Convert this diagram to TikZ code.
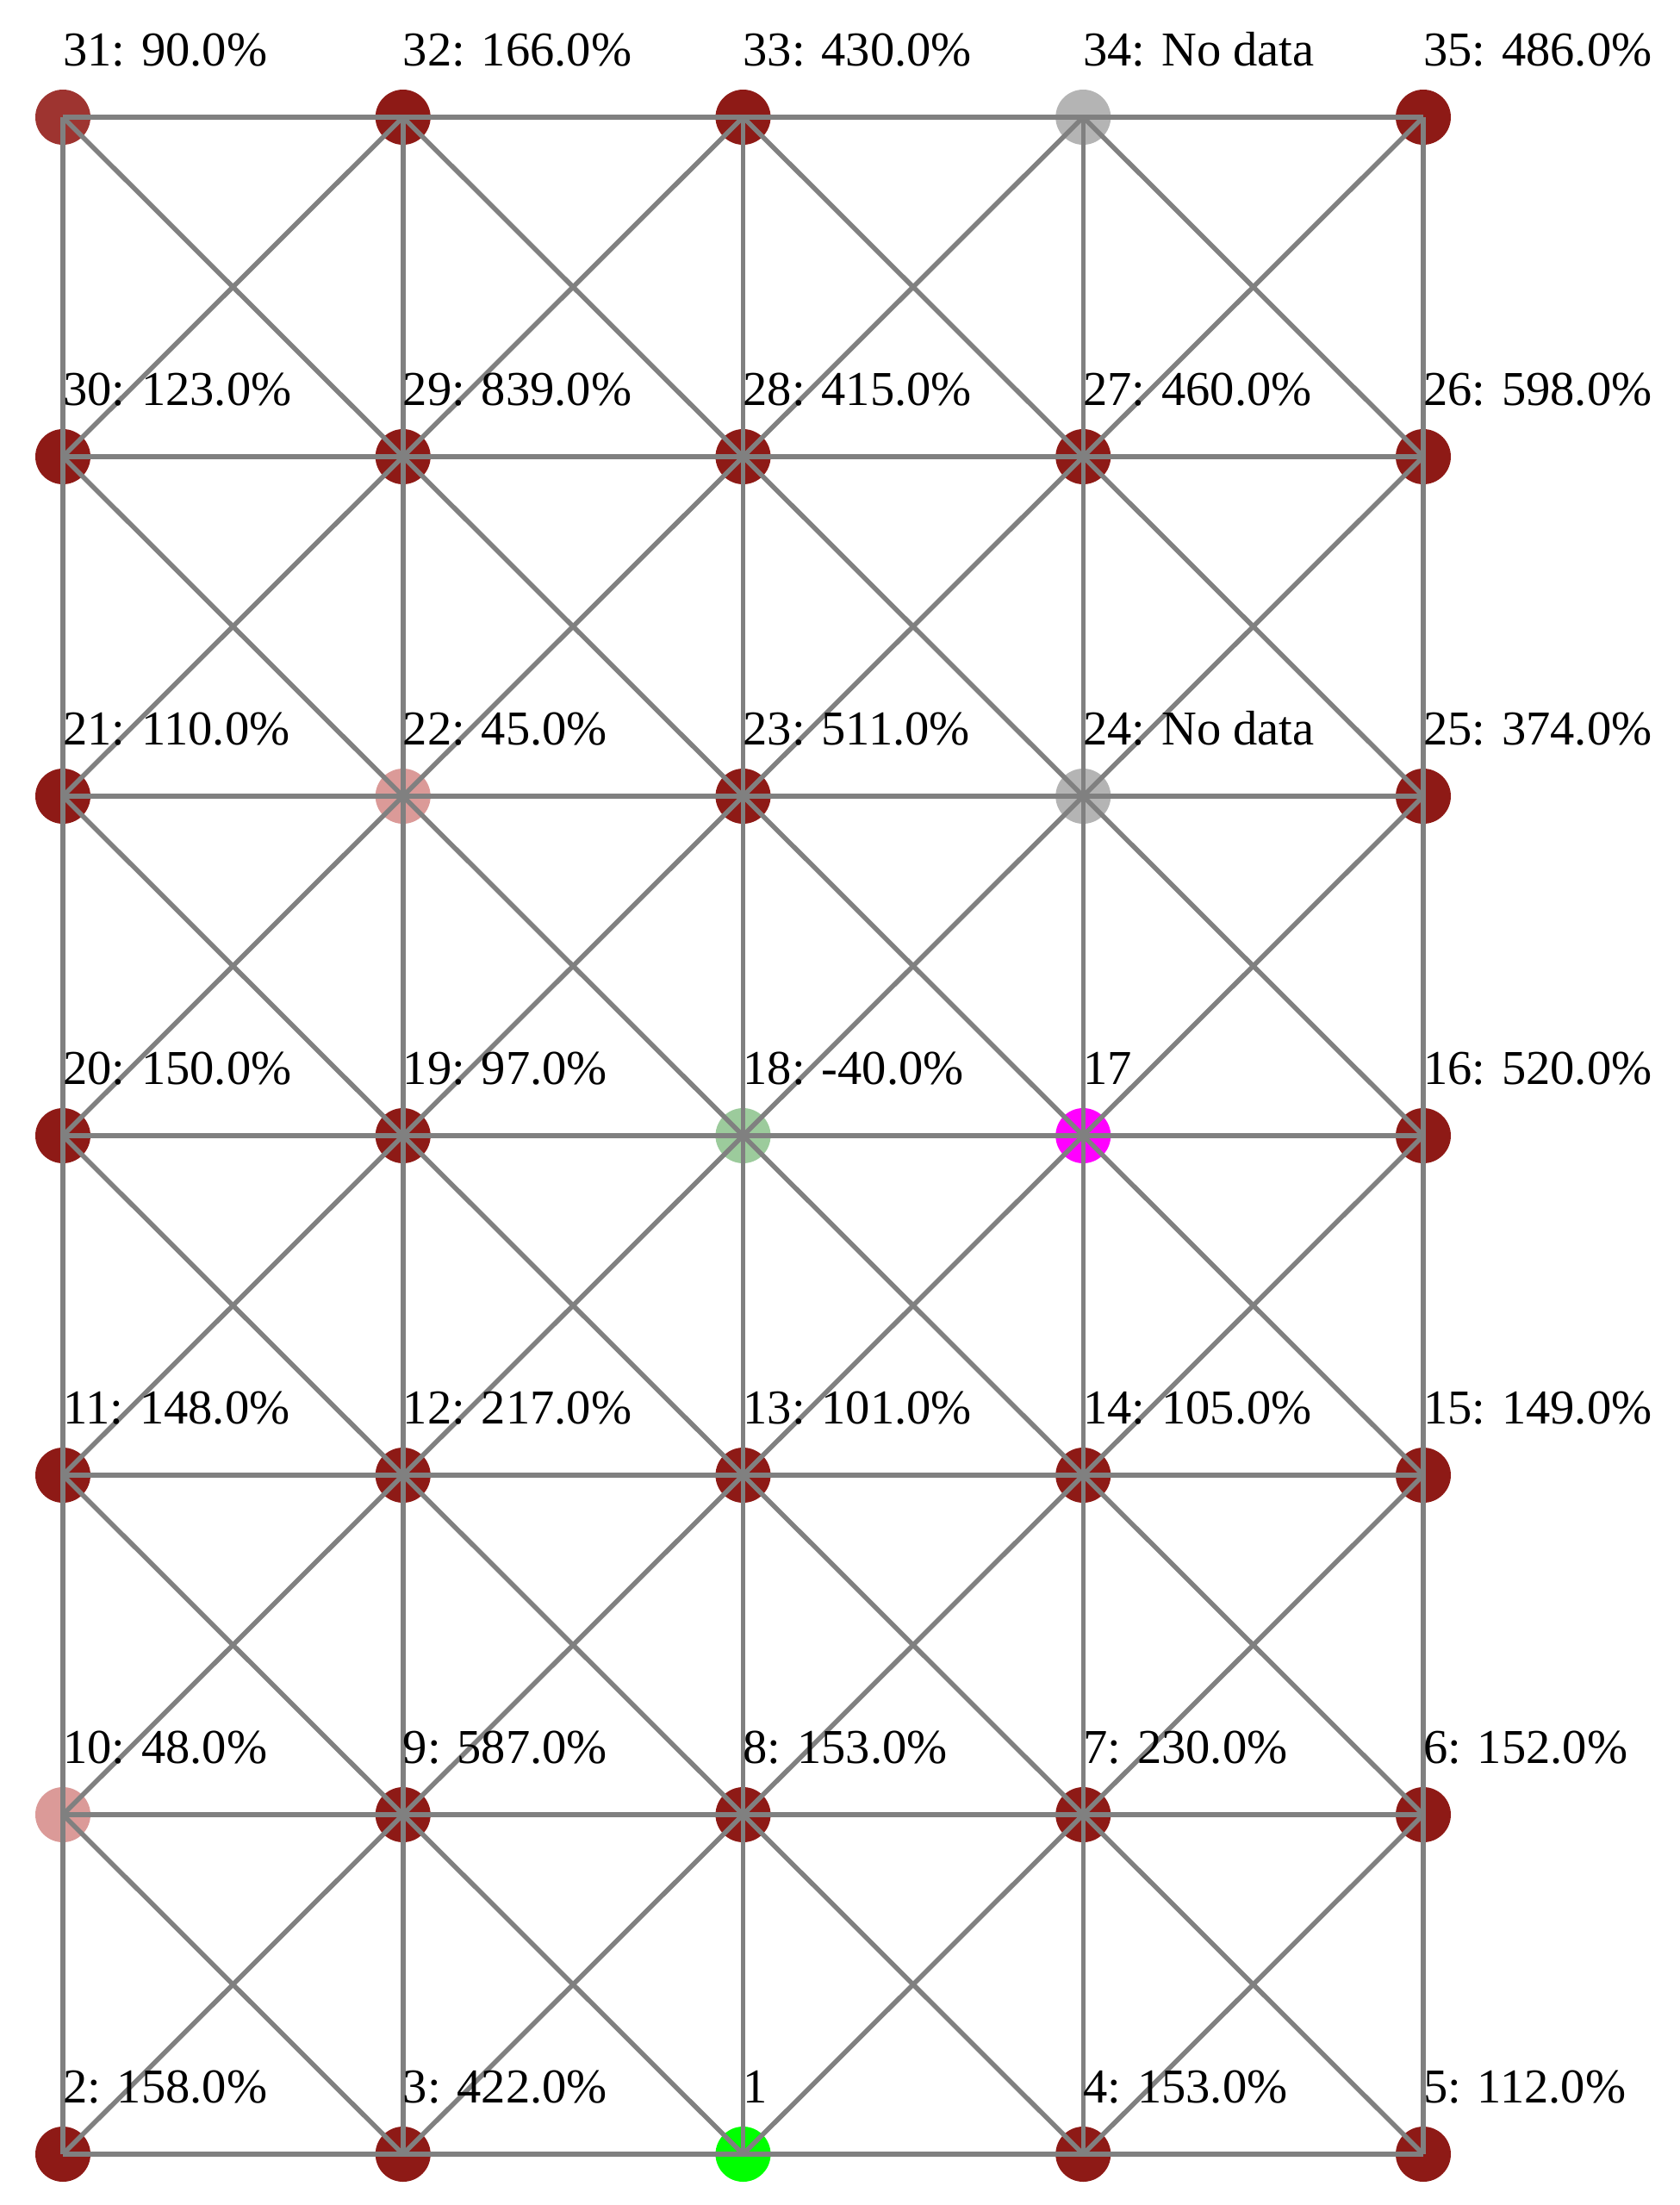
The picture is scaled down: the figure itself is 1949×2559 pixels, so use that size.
\documentclass[tikz,border=0pt]{standalone}
\usepackage{fontspec}
\setmainfont{Liberation Serif}
\definecolor{dred}{RGB}{142,26,22}
\definecolor{red31}{RGB}{158,52,48}
\definecolor{pinkn}{RGB}{219,154,152}
\definecolor{lgreen}{RGB}{156,203,156}
\definecolor{ngray}{RGB}{180,180,180}
\definecolor{edgegray}{RGB}{128,128,128}
\definecolor{magn}{RGB}{255,0,255}
\definecolor{brightgreen}{RGB}{0,255,0}
\begin{document}
\begin{tikzpicture}[x=1pt,y=-1pt,
  vtx/.style={circle,inner sep=0pt,minimum size=64pt,fill=#1},
  lab/.style={anchor=base west,inner sep=0pt,font=\fontsize{56.5}{60}\selectfont,text=black},
  edge/.style={draw=edgegray,line width=5.5pt}]
\useasboundingbox (0,0) rectangle (1949,2559);
\def\nodelist{31/0/0/red31/{31: 90.0\%},32/1/0/dred/{32: 166.0\%},33/2/0/dred/{33: 430.0\%},34/3/0/ngray/{34: No data},35/4/0/dred/{35: 486.0\%},
30/0/1/dred/{30: 123.0\%},29/1/1/dred/{29: 839.0\%},28/2/1/dred/{28: 415.0\%},27/3/1/dred/{27: 460.0\%},26/4/1/dred/{26: 598.0\%},
21/0/2/dred/{21: 110.0\%},22/1/2/pinkn/{22: 45.0\%},23/2/2/dred/{23: 511.0\%},24/3/2/ngray/{24: No data},25/4/2/dred/{25: 374.0\%},
20/0/3/dred/{20: 150.0\%},19/1/3/dred/{19: 97.0\%},18/2/3/lgreen/{18: -40.0\%},17/3/3/magn/{17},16/4/3/dred/{16: 520.0\%},
11/0/4/dred/{11: 148.0\%},12/1/4/dred/{12: 217.0\%},13/2/4/dred/{13: 101.0\%},14/3/4/dred/{14: 105.0\%},15/4/4/dred/{15: 149.0\%},
10/0/5/pinkn/{10: 48.0\%},9/1/5/dred/{9: 587.0\%},8/2/5/dred/{8: 153.0\%},7/3/5/dred/{7: 230.0\%},6/4/5/dred/{6: 152.0\%},
2/0/6/dred/{2: 158.0\%},3/1/6/dred/{3: 422.0\%},1/2/6/brightgreen/{1},4/3/6/dred/{4: 153.0\%},5/4/6/dred/{5: 112.0\%}}
% vertices
\foreach \n/\c/\r/\col/\t in \nodelist {
  \node[vtx=\col,alias=g\r\c] (n\n) at ({73+394.75*\c},{136+394*\r}) {};
}
% horizontal edges
\foreach \r in {0,...,6} {
  \foreach \c in {0,...,3} {
    \pgfmathtruncatemacro\cc{\c+1}
    \draw[edge] (g\r\c.center) -- (g\r\cc.center);
  }
}
% vertical edges
\foreach \r in {0,...,5} {
  \foreach \c in {0,...,4} {
    \pgfmathtruncatemacro\rr{\r+1}
    \draw[edge] (g\r\c.center) -- (g\rr\c.center);
  }
}
% diagonal edges
\foreach \r in {0,...,5} {
  \foreach \c in {0,...,3} {
    \pgfmathtruncatemacro\rr{\r+1}
    \pgfmathtruncatemacro\cc{\c+1}
    \draw[edge] (g\r\c.center) -- (g\rr\cc.center);
    \draw[edge] (g\r\cc.center) -- (g\rr\c.center);
  }
}
% labels
\foreach \n/\c/\r/\col/\t in \nodelist {
  \node[lab] (l\n) at ({73+394.75*\c},{76+394*\r}) {\t};
}
\end{tikzpicture}
\end{document}
